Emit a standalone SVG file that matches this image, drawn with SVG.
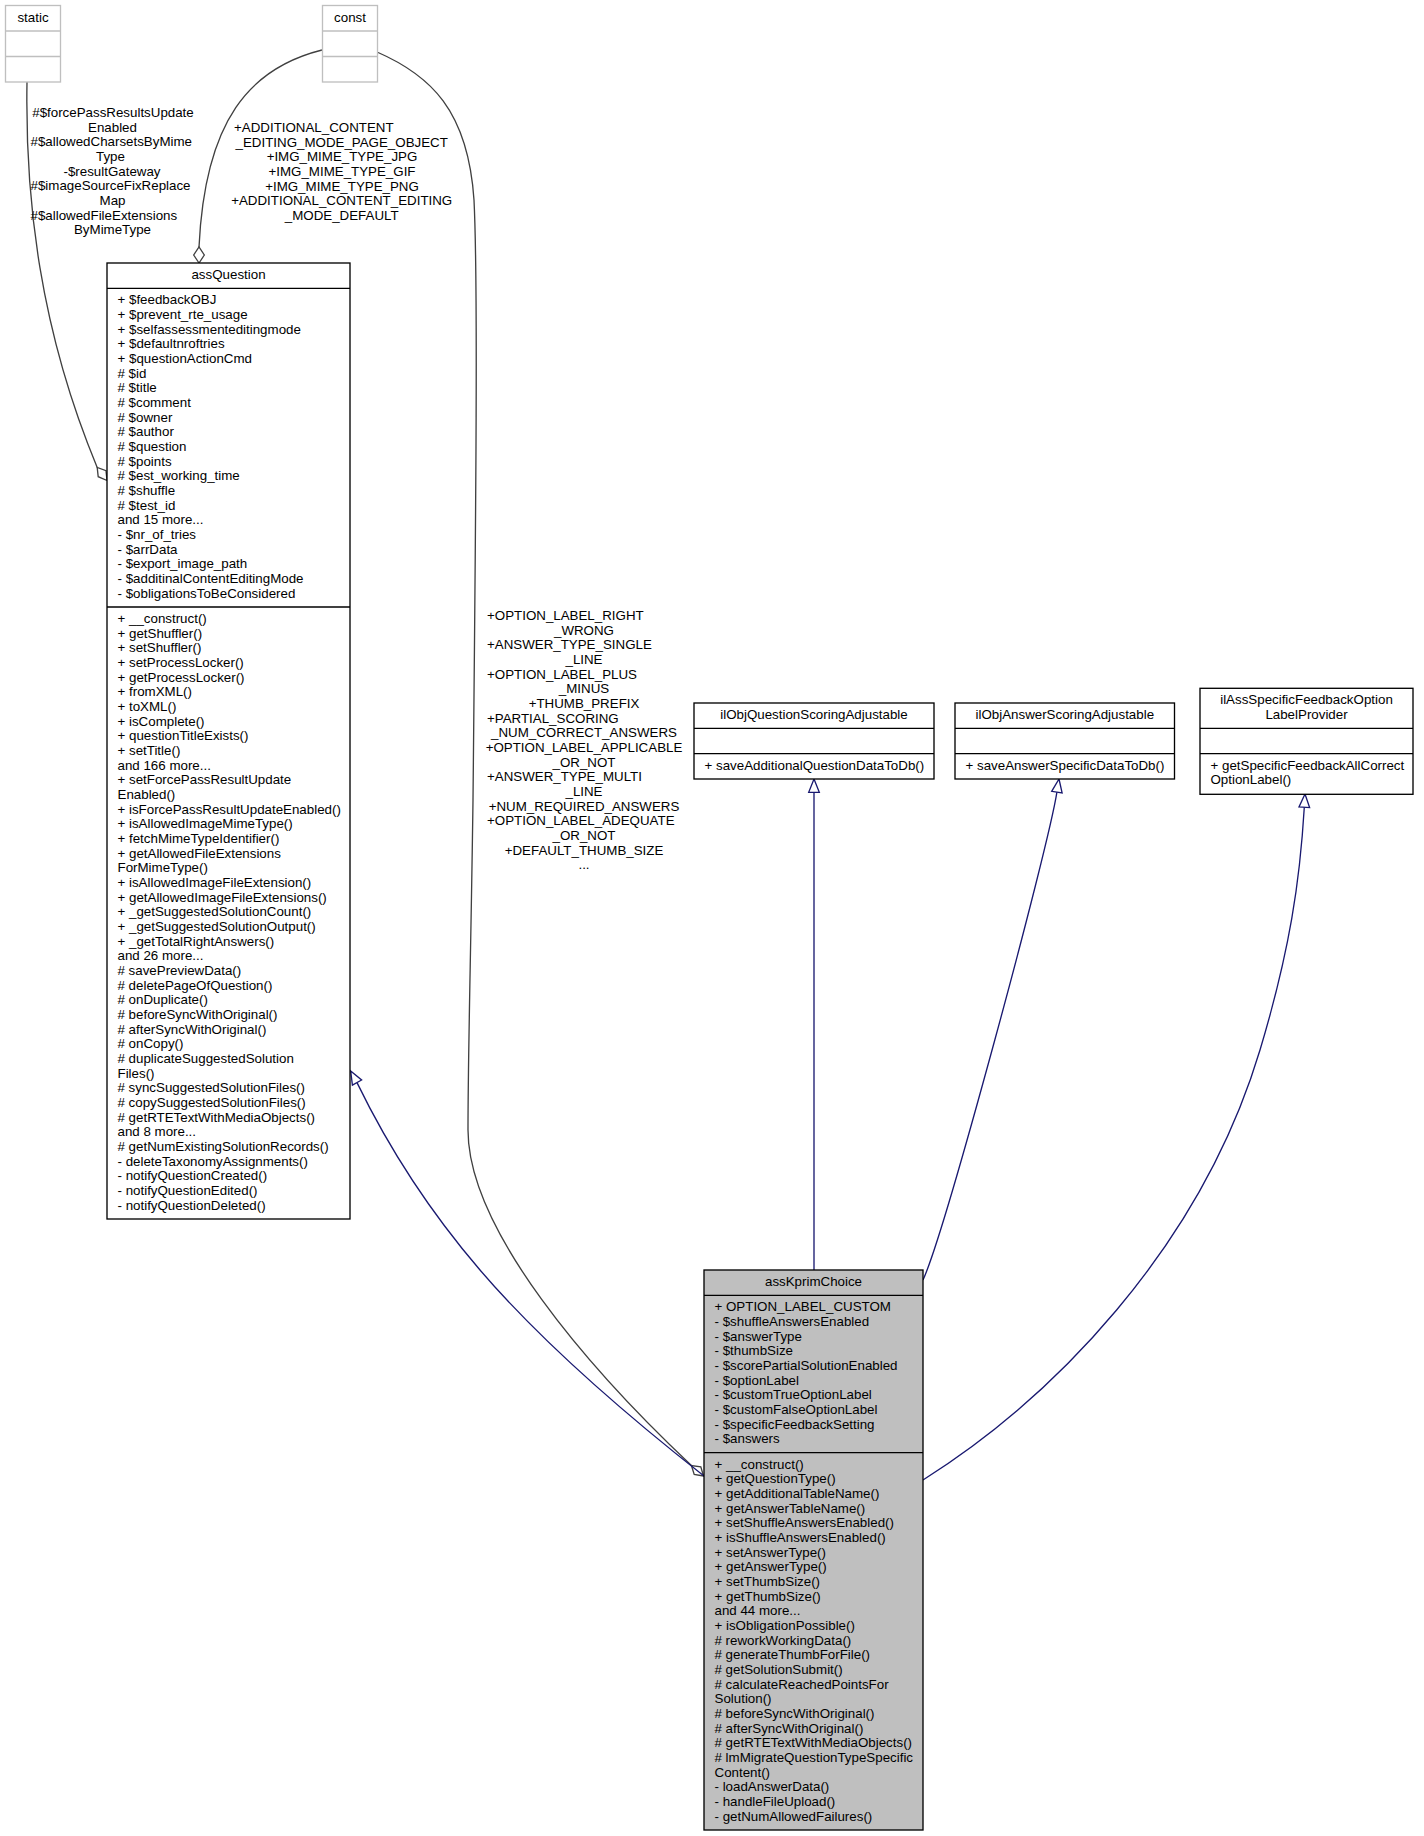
<svg xmlns="http://www.w3.org/2000/svg" width="1424" height="1836" viewBox="0 0 1424 1836">
<style>
text{font-family:"Liberation Sans",Arial,Helvetica,sans-serif;font-size:13.33px;fill:#000}
.m{text-anchor:middle}
.box{fill:#fff;stroke:#000;stroke-width:1.33}
.cur{fill:#bfbfbf;stroke:#000;stroke-width:1.33}
.ext{fill:#fff;stroke:#bfbfbf;stroke-width:1.33}
.dv{stroke:#000;stroke-width:1.33}
.dvg{stroke:#bfbfbf;stroke-width:1.33}
.inh{fill:none;stroke:#191970;stroke-width:1.33}
.inha{fill:#fff;stroke:#191970;stroke-width:1.33}
.use{fill:none;stroke:#404040;stroke-width:1.33}
.usea{fill:#fff;stroke:#404040;stroke-width:1.33}
</style>
<rect width="1424" height="1836" fill="#fff"/>
<g id="edges">
  <path class="use" d="M27,82 C25,200 40,330 97.2,467.4"/>
  <polygon class="usea" points="107,480.5 98.2,476.7 97.2,467.4 106,470.7"/>
  <path class="use" d="M322,50 C250,68 205,120 199,247"/>
  <polygon class="usea" points="199,263 193.7,255 199,247 204.3,255"/>
  <path class="use" d="M377,52 C430,75 468,110 474,200 C478,280 476,500 473,800 C471,950 468,1050 468,1130 C468,1230 590,1370 691.4,1465.5"/>
  <polygon class="usea" points="703.5,1476 694.2,1474.5 691.4,1465.5 700.8,1466.9"/>
  <path class="inh" d="M357,1082.6 C380,1130 420,1200 480,1270 C540,1340 620,1410 704,1476"/>
  <polygon class="inha" points="350.7,1071 361.6,1080 352.4,1085.2"/>
  <path class="inh" d="M814,1270 L814,792.3"/>
  <polygon class="inha" points="814,779 819.3,792.3 808.7,792.3"/>
  <path class="inh" d="M923,1280 C945,1232 1048,850 1056.9,792.1"/>
  <polygon class="inha" points="1059,779 1062.1,792.9 1051.7,791.3"/>
  <path class="inh" d="M923,1480 C1050,1400 1200,1250 1260,1050 C1290,950 1300,880 1304.3,807.3"/>
  <polygon class="inha" points="1305,794 1309.6,807.6 1299,807"/>
  <g id="edge-labels">
    <text class="m" x="113" y="116.8">#$forcePassResultsUpdate</text>
    <text class="m" x="112.5" y="131.5">Enabled</text>
    <text x="30.5" y="146.1">#$allowedCharsetsByMime</text>
    <text class="m" x="110.5" y="160.8">Type</text>
    <text class="m" x="112" y="175.5">-$resultGateway</text>
    <text x="30.5" y="190.1">#$imageSourceFixReplace</text>
    <text class="m" x="112.5" y="204.8">Map</text>
    <text x="30.5" y="219.5">#$allowedFileExtensions</text>
    <text class="m" x="112.5" y="234.1">ByMimeType</text>

    <text x="234" y="132.1">+ADDITIONAL_CONTENT</text>
    <text class="m" x="341.7" y="146.8">_EDITING_MODE_PAGE_OBJECT</text>
    <text class="m" x="342" y="161.4">+IMG_MIME_TYPE_JPG</text>
    <text class="m" x="342" y="176.1">+IMG_MIME_TYPE_GIF</text>
    <text class="m" x="342" y="190.8">+IMG_MIME_TYPE_PNG</text>
    <text class="m" x="341.7" y="205.4">+ADDITIONAL_CONTENT_EDITING</text>
    <text class="m" x="341.7" y="220.1">_MODE_DEFAULT</text>

    <text x="487" y="619.8">+OPTION_LABEL_RIGHT</text>
    <text class="m" x="584" y="634.5">_WRONG</text>
    <text x="487" y="649.1">+ANSWER_TYPE_SINGLE</text>
    <text class="m" x="584" y="663.8">_LINE</text>
    <text x="487" y="678.5">+OPTION_LABEL_PLUS</text>
    <text class="m" x="584" y="693.1">_MINUS</text>
    <text class="m" x="584" y="707.8">+THUMB_PREFIX</text>
    <text x="487" y="722.5">+PARTIAL_SCORING</text>
    <text class="m" x="584" y="737.1">_NUM_CORRECT_ANSWERS</text>
    <text class="m" x="584" y="751.8">+OPTION_LABEL_APPLICABLE</text>
    <text class="m" x="584" y="766.5">_OR_NOT</text>
    <text x="487" y="781.1">+ANSWER_TYPE_MULTI</text>
    <text class="m" x="584" y="795.8">_LINE</text>
    <text class="m" x="584" y="810.5">+NUM_REQUIRED_ANSWERS</text>
    <text x="487" y="825.1">+OPTION_LABEL_ADEQUATE</text>
    <text class="m" x="584" y="839.8">_OR_NOT</text>
    <text class="m" x="584" y="854.5">+DEFAULT_THUMB_SIZE</text>
    <text class="m" x="584" y="869.1">...</text>
  </g>
</g>

<g id="node-static">
  <rect class="ext" x="5.5" y="5.5" width="55" height="76.5"/>
  <line class="dvg" x1="5.5" y1="31" x2="60.5" y2="31"/>
  <line class="dvg" x1="5.5" y1="56.5" x2="60.5" y2="56.5"/>
  <text class="m" x="33" y="22">static</text>
</g>

<g id="node-const">
  <rect class="ext" x="322.5" y="5.5" width="55" height="76.5"/>
  <line class="dvg" x1="322.5" y1="31" x2="377.5" y2="31"/>
  <line class="dvg" x1="322.5" y1="56.5" x2="377.5" y2="56.5"/>
  <text class="m" x="350" y="22">const</text>
</g>

<g id="node-assQuestion">
  <rect class="box" x="107" y="263" width="243" height="956"/>
  <line class="dv" x1="107" y1="288.3" x2="350" y2="288.3"/>
  <line class="dv" x1="107" y1="607" x2="350" y2="607"/>
  <text class="m" x="228.5" y="279">assQuestion</text>
  <text x="117.5" y="304.3"><tspan x="117.5" dy="0">+ $feedbackOBJ</tspan><tspan x="117.5" dy="14.67">+ $prevent_rte_usage</tspan><tspan x="117.5" dy="14.67">+ $selfassessmenteditingmode</tspan><tspan x="117.5" dy="14.67">+ $defaultnroftries</tspan><tspan x="117.5" dy="14.67">+ $questionActionCmd</tspan><tspan x="117.5" dy="14.67"># $id</tspan><tspan x="117.5" dy="14.67"># $title</tspan><tspan x="117.5" dy="14.67"># $comment</tspan><tspan x="117.5" dy="14.67"># $owner</tspan><tspan x="117.5" dy="14.67"># $author</tspan><tspan x="117.5" dy="14.67"># $question</tspan><tspan x="117.5" dy="14.67"># $points</tspan><tspan x="117.5" dy="14.67"># $est_working_time</tspan><tspan x="117.5" dy="14.67"># $shuffle</tspan><tspan x="117.5" dy="14.67"># $test_id</tspan><tspan x="117.5" dy="14.67">and 15 more...</tspan><tspan x="117.5" dy="14.67">- $nr_of_tries</tspan><tspan x="117.5" dy="14.67">- $arrData</tspan><tspan x="117.5" dy="14.67">- $export_image_path</tspan><tspan x="117.5" dy="14.67">- $additinalContentEditingMode</tspan><tspan x="117.5" dy="14.67">- $obligationsToBeConsidered</tspan></text>
  <text x="117.5" y="623"><tspan x="117.5" dy="0">+ __construct()</tspan><tspan x="117.5" dy="14.67">+ getShuffler()</tspan><tspan x="117.5" dy="14.67">+ setShuffler()</tspan><tspan x="117.5" dy="14.67">+ setProcessLocker()</tspan><tspan x="117.5" dy="14.67">+ getProcessLocker()</tspan><tspan x="117.5" dy="14.67">+ fromXML()</tspan><tspan x="117.5" dy="14.67">+ toXML()</tspan><tspan x="117.5" dy="14.67">+ isComplete()</tspan><tspan x="117.5" dy="14.67">+ questionTitleExists()</tspan><tspan x="117.5" dy="14.67">+ setTitle()</tspan><tspan x="117.5" dy="14.67">and 166 more...</tspan><tspan x="117.5" dy="14.67">+ setForcePassResultUpdate</tspan><tspan x="117.5" dy="14.67">Enabled()</tspan><tspan x="117.5" dy="14.67">+ isForcePassResultUpdateEnabled()</tspan><tspan x="117.5" dy="14.67">+ isAllowedImageMimeType()</tspan><tspan x="117.5" dy="14.67">+ fetchMimeTypeIdentifier()</tspan><tspan x="117.5" dy="14.67">+ getAllowedFileExtensions</tspan><tspan x="117.5" dy="14.67">ForMimeType()</tspan><tspan x="117.5" dy="14.67">+ isAllowedImageFileExtension()</tspan><tspan x="117.5" dy="14.67">+ getAllowedImageFileExtensions()</tspan><tspan x="117.5" dy="14.67">+ _getSuggestedSolutionCount()</tspan><tspan x="117.5" dy="14.67">+ _getSuggestedSolutionOutput()</tspan><tspan x="117.5" dy="14.67">+ _getTotalRightAnswers()</tspan><tspan x="117.5" dy="14.67">and 26 more...</tspan><tspan x="117.5" dy="14.67"># savePreviewData()</tspan><tspan x="117.5" dy="14.67"># deletePageOfQuestion()</tspan><tspan x="117.5" dy="14.67"># onDuplicate()</tspan><tspan x="117.5" dy="14.67"># beforeSyncWithOriginal()</tspan><tspan x="117.5" dy="14.67"># afterSyncWithOriginal()</tspan><tspan x="117.5" dy="14.67"># onCopy()</tspan><tspan x="117.5" dy="14.67"># duplicateSuggestedSolution</tspan><tspan x="117.5" dy="14.67">Files()</tspan><tspan x="117.5" dy="14.67"># syncSuggestedSolutionFiles()</tspan><tspan x="117.5" dy="14.67"># copySuggestedSolutionFiles()</tspan><tspan x="117.5" dy="14.67"># getRTETextWithMediaObjects()</tspan><tspan x="117.5" dy="14.67">and 8 more...</tspan><tspan x="117.5" dy="14.67"># getNumExistingSolutionRecords()</tspan><tspan x="117.5" dy="14.67">- deleteTaxonomyAssignments()</tspan><tspan x="117.5" dy="14.67">- notifyQuestionCreated()</tspan><tspan x="117.5" dy="14.67">- notifyQuestionEdited()</tspan><tspan x="117.5" dy="14.67">- notifyQuestionDeleted()</tspan></text>
</g>

<g id="node-ilObjQuestionScoringAdjustable">
  <rect class="box" x="694" y="703" width="240" height="76"/>
  <line class="dv" x1="694" y1="728.3" x2="934" y2="728.3"/>
  <line class="dv" x1="694" y1="753.7" x2="934" y2="753.7"/>
  <text class="m" x="814" y="719">ilObjQuestionScoringAdjustable</text>
  <text x="704.5" y="769.7">+ saveAdditionalQuestionDataToDb()</text>
</g>

<g id="node-ilObjAnswerScoringAdjustable">
  <rect class="box" x="955" y="703" width="219.5" height="76"/>
  <line class="dv" x1="955" y1="728.3" x2="1174.5" y2="728.3"/>
  <line class="dv" x1="955" y1="753.7" x2="1174.5" y2="753.7"/>
  <text class="m" x="1064.8" y="719">ilObjAnswerScoringAdjustable</text>
  <text x="965.5" y="769.7">+ saveAnswerSpecificDataToDb()</text>
</g>

<g id="node-ilAssSpecificFeedbackOptionLabelProvider">
  <rect class="box" x="1200" y="688.3" width="213" height="106"/>
  <line class="dv" x1="1200" y1="728.3" x2="1413" y2="728.3"/>
  <line class="dv" x1="1200" y1="753.7" x2="1413" y2="753.7"/>
  <text class="m" x="1306.5" y="704.3">ilAssSpecificFeedbackOption</text>
  <text class="m" x="1306.5" y="719">LabelProvider</text>
  <text x="1210.5" y="769.7">+ getSpecificFeedbackAllCorrect</text>
  <text x="1210.5" y="784.4">OptionLabel()</text>
</g>

<g id="node-assKprimChoice">
  <rect class="cur" x="704" y="1270" width="219" height="560"/>
  <line class="dv" x1="704" y1="1295.3" x2="923" y2="1295.3"/>
  <line class="dv" x1="704" y1="1452.7" x2="923" y2="1452.7"/>
  <text class="m" x="813.5" y="1286">assKprimChoice</text>
  <text x="714.5" y="1311.3"><tspan x="714.5" dy="0">+ OPTION_LABEL_CUSTOM</tspan><tspan x="714.5" dy="14.67">- $shuffleAnswersEnabled</tspan><tspan x="714.5" dy="14.67">- $answerType</tspan><tspan x="714.5" dy="14.67">- $thumbSize</tspan><tspan x="714.5" dy="14.67">- $scorePartialSolutionEnabled</tspan><tspan x="714.5" dy="14.67">- $optionLabel</tspan><tspan x="714.5" dy="14.67">- $customTrueOptionLabel</tspan><tspan x="714.5" dy="14.67">- $customFalseOptionLabel</tspan><tspan x="714.5" dy="14.67">- $specificFeedbackSetting</tspan><tspan x="714.5" dy="14.67">- $answers</tspan></text>
  <text x="714.5" y="1468.7"><tspan x="714.5" dy="0">+ __construct()</tspan><tspan x="714.5" dy="14.67">+ getQuestionType()</tspan><tspan x="714.5" dy="14.67">+ getAdditionalTableName()</tspan><tspan x="714.5" dy="14.67">+ getAnswerTableName()</tspan><tspan x="714.5" dy="14.67">+ setShuffleAnswersEnabled()</tspan><tspan x="714.5" dy="14.67">+ isShuffleAnswersEnabled()</tspan><tspan x="714.5" dy="14.67">+ setAnswerType()</tspan><tspan x="714.5" dy="14.67">+ getAnswerType()</tspan><tspan x="714.5" dy="14.67">+ setThumbSize()</tspan><tspan x="714.5" dy="14.67">+ getThumbSize()</tspan><tspan x="714.5" dy="14.67">and 44 more...</tspan><tspan x="714.5" dy="14.67">+ isObligationPossible()</tspan><tspan x="714.5" dy="14.67"># reworkWorkingData()</tspan><tspan x="714.5" dy="14.67"># generateThumbForFile()</tspan><tspan x="714.5" dy="14.67"># getSolutionSubmit()</tspan><tspan x="714.5" dy="14.67"># calculateReachedPointsFor</tspan><tspan x="714.5" dy="14.67">Solution()</tspan><tspan x="714.5" dy="14.67"># beforeSyncWithOriginal()</tspan><tspan x="714.5" dy="14.67"># afterSyncWithOriginal()</tspan><tspan x="714.5" dy="14.67"># getRTETextWithMediaObjects()</tspan><tspan x="714.5" dy="14.67"># lmMigrateQuestionTypeSpecific</tspan><tspan x="714.5" dy="14.67">Content()</tspan><tspan x="714.5" dy="14.67">- loadAnswerData()</tspan><tspan x="714.5" dy="14.67">- handleFileUpload()</tspan><tspan x="714.5" dy="14.67">- getNumAllowedFailures()</tspan></text>
</g>
</svg>
